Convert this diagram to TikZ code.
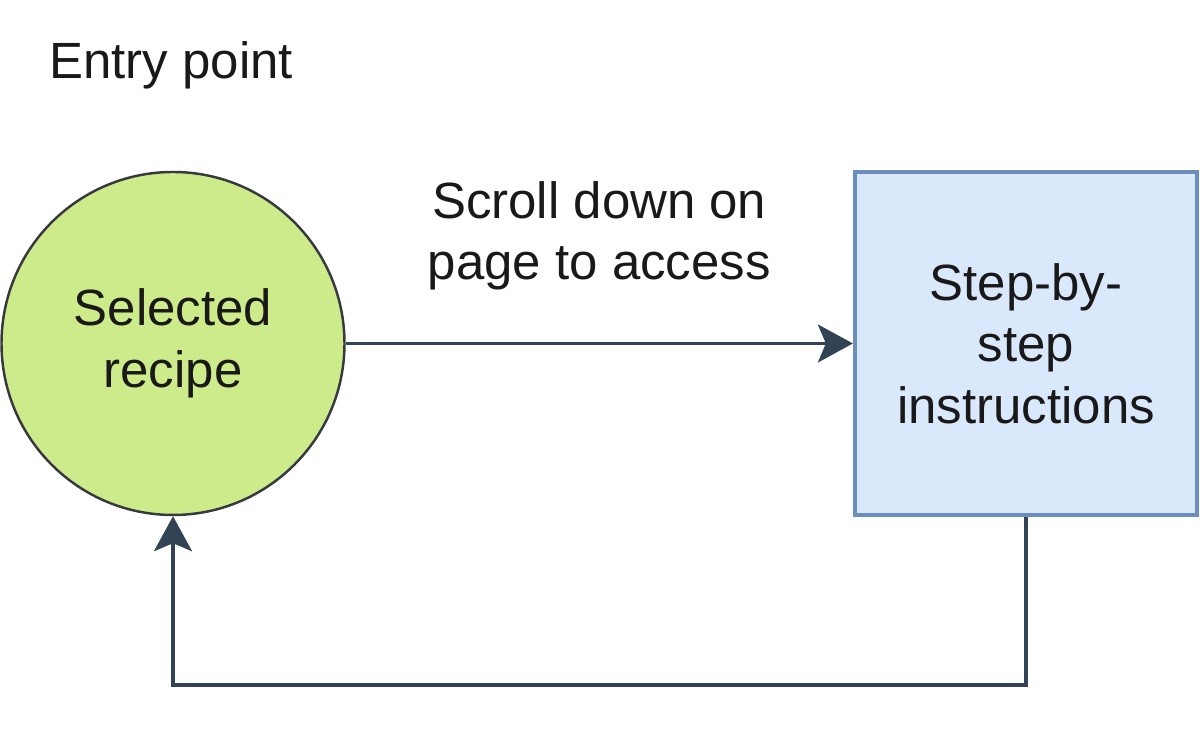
\documentclass[tikz,border=0pt]{standalone}
\usepackage{fontspec}
\setmainfont{Liberation Sans}
\usetikzlibrary{arrows.meta}

\definecolor{recipegreen}{HTML}{CDEB8B}
\definecolor{recipeedge}{HTML}{36393D}
\definecolor{stepblue}{HTML}{DAE8FC}
\definecolor{stepedge}{HTML}{6C8EBF}
\definecolor{linkcol}{HTML}{314354}

\begin{document}
\begin{tikzpicture}[
    stateball/.style={circle, draw=recipeedge, fill=recipegreen, line width=0.7pt,
                      minimum size=3.43cm, inner sep=0pt, align=center},
    stepbox/.style={draw=stepedge, fill=stepblue, line width=1.2pt,
                    minimum width=3.42cm, minimum height=3.43cm, align=center},
    link/.style={draw=linkcol, line width=0.9pt,
                 -{Stealth[length=0.35cm, width=0.38cm, inset=0.08cm]}},
    txt/.style={font=\fontsize{14.5}{17.5}\selectfont, text=black!90}
  ]
  \useasboundingbox (0,0) rectangle (12,7.31);

  % Title
  \node[txt, anchor=west] (entry) at (0.37,6.66) {Entry point};

  % States
  \node[stateball, txt] (recipe) at (1.73,3.875) {Selected\\recipe};
  \node[stepbox, txt] (steps) at (10.26,3.875) {Step-by-\\step\\instructions};

  % Transitions
  \draw[link] (recipe) -- (steps)
    node[txt, midway, above=0.4cm, align=center] (scroll) {Scroll down on\\page to access};
  \coordinate (back) at (1.73,0.46);
  \draw[link] (steps.south) |- (back) -- (recipe.south);
\end{tikzpicture}
\end{document}
